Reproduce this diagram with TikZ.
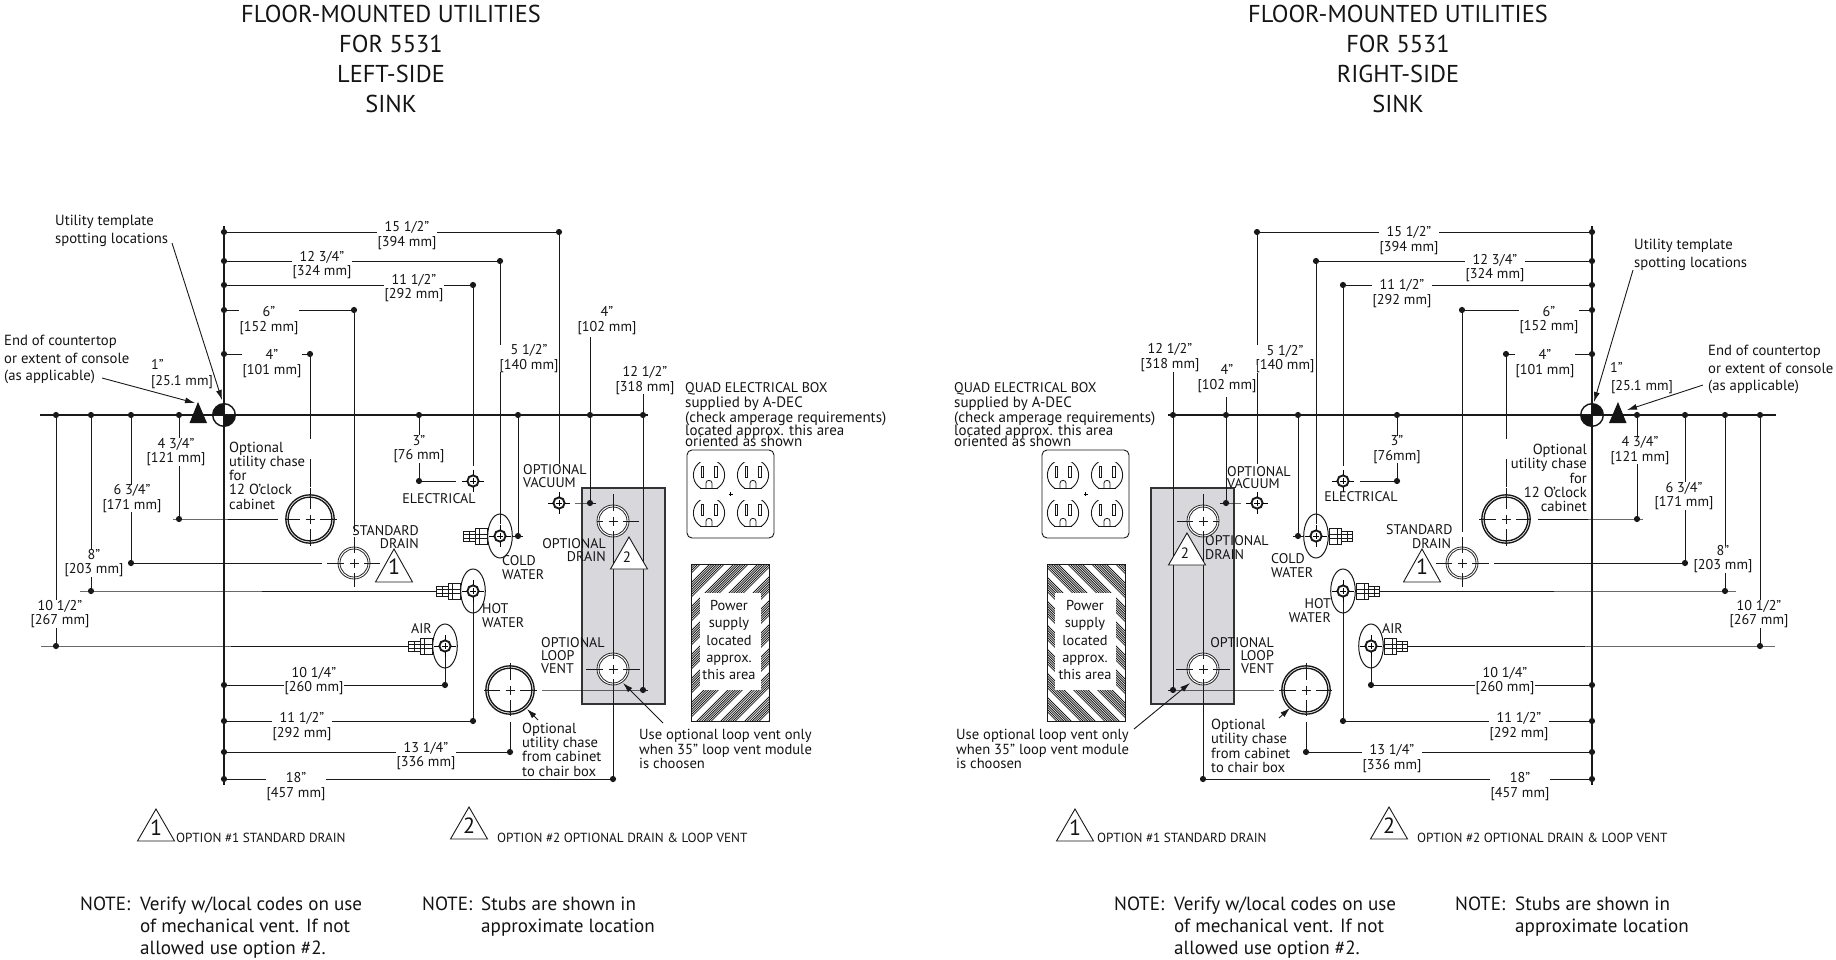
\documentclass[tikz,border=0pt]{standalone}
\usepackage{fontspec}
\setmainfont{PT Sans}
\usetikzlibrary{arrows.meta}
\newcommand\dimf{\fontsize{14.2}{14.5}\selectfont}
\newcommand\txtf{\fontsize{14.6}{14.3}\selectfont}
\newcommand\callf{\fontsize{14.7}{17.4}\selectfont}
\newcommand\capf{\fontsize{14}{13.3}\selectfont}
\newcommand\optf{\fontsize{13.2}{13}\selectfont}
\newcommand\notef{\fontsize{19.1}{22}\selectfont}
\newcommand\titf{\fontsize{24.4}{30}\selectfont}
\newcommand\quadlines{{\fontsize{14}{14.5}\selectfont QUAD ELECTRICAL BOX}\\[0.5pt]supplied by A-DEC\\[0pt](check amperage requirements)\\[-1.2pt]located approx. this area\\[-3.5pt]oriented as shown}
\tikzset{
 thinl/.style={line width=1pt,draw=black!90},
 axisl/.style={line width=1.4pt,draw=black!90},
 mainl/.style={line width=1.15pt,draw=black!90},
 dimlab/.style={align=center,fill=white,inner xsep=1pt,inner ysep=0pt,font=\dimf,text=black!92,yshift=-1pt},
 plainlab/.style={align=center,inner sep=0pt,font=\dimf,text=black!92},
 leftlab/.style={align=left,anchor=west,inner sep=0pt,font=\txtf,text=black!92},
 rightlab/.style={align=right,anchor=east,inner sep=0pt,font=\txtf,text=black!92},
 cenlab/.style={align=center,inner sep=0pt,font=\txtf,text=black!92},
 caplab/.style={align=left,anchor=west,inner sep=0pt,font=\capf,text=black!92},
 capr/.style={align=right,anchor=east,inner sep=0pt,font=\capf,text=black!92},
 calllab/.style={align=left,anchor=west,inner sep=0pt,font=\callf,text=black!92},
 optlab/.style={anchor=west,inner sep=0pt,font=\optf,text=black!92},
 notelab/.style={align=left,anchor=north west,inner sep=0pt,font=\notef,text=black!92},
 titlelab/.style={align=center,inner sep=0pt,font=\titf,text=black!92},
 trinum/.style={inner sep=0pt,font=\fontsize{22}{22}\selectfont,text=black!92},
 trinumsm/.style={inner sep=0pt,font=\fontsize{15}{15}\selectfont,text=black!92},
 ldr/.style={line width=0.9pt,draw=black!90,-{Latex[length=10pt,width=6pt]}},
}
% ---------- helpers
\newcommand\dotat[1]{\fill[black!90] (#1) circle (3.1pt);}
\newcommand\dimln[2]{\draw[thinl] (#1) -- (#2); \dotat{#1}\dotat{#2}}
\newcommand\crossm[6]{% x y hleft hright vup vdown
  \draw[thinl] (#1-#3,#2) -- (#1-10,#2) (#1-4.5,#2) -- (#1+4.5,#2) (#1+10,#2) -- (#1+#4,#2)
               (#1,#2-#5) -- (#1,#2-10) (#1,#2-4.5) -- (#1,#2+4.5) (#1,#2+10) -- (#1,#2+#6);}
\newcommand\chase[2]{\draw[line width=1.35pt,draw=black!90] (#1,#2) circle (21.9pt) circle (24.2pt);}
\newcommand\ringd[2]{\filldraw[fill=white,line width=0.8pt,draw=black!85] (#1,#2) circle (16pt); \draw[line width=0.8pt,draw=black!85] (#1,#2) circle (14pt);}
\newcommand\smring[2]{\fill[white] (#1,#2) circle (6pt);
  \draw[line width=1.9pt,draw=black!90] (#1,#2) circle (5.6pt);
  \draw[line width=0.7pt] (#1-3,#2)--(#1+3,#2) (#1,#2-3)--(#1,#2+3)
    (#1-11,#2)--(#1-6,#2) (#1+6,#2)--(#1+11,#2) (#1,#2-11)--(#1,#2-6) (#1,#2+6)--(#1,#2+11);}
\newcommand\stub[3]{% ellipse + fitting at centre x y
  \draw[thinl] (#1,#2) ellipse [x radius=12.3pt,y radius=22pt];
  \filldraw[fill=white,line width=0.9pt,draw=black!90] (#1-25,#2-8) rectangle (#1-13,#2+8);
  \filldraw[fill=white,line width=0.9pt,draw=black!90] (#1-36.5,#2-5) rectangle (#1-25,#2+5);
  \draw[line width=0.7pt,draw=black!90] (#1-36.5,#2-2)--(#1-13,#2-2) (#1-36.5,#2+2)--(#1-13,#2+2) (#1-21,#2-8)--(#1-21,#2+8) (#1-31,#2-5)--(#1-31,#2+5);
  \smring{#1}{#2}}
\newcommand\outlet[2]{\begin{scope}
  \clip (#1-17,#2-13) rectangle (#1+17,#2+13);
  \draw[line width=0.9pt,draw=black!90] (#1,#2) circle (15.6pt);\end{scope}
  \draw[line width=0.9pt,draw=black!90] (#1-8.7,#2+13) -- (#1+8.7,#2+13);
  \draw[line width=0.8pt,draw=black!90] (#1-8,#2-9) rectangle (#1-5.4,#2+2.5) (#1+5.4,#2-9) rectangle (#1+8,#2+2.5);
  \draw[line width=0.8pt,draw=black!90] (#1-3,#2+13) -- (#1-3,#2+8) .. controls (#1-3,#2+4.5) and (#1+3,#2+4.5) .. (#1+3,#2+8) -- (#1+3,#2+13);}
% ---------- background part of one half
\newcommand\halfback{%
  \filldraw[fill=black!14!white!98!blue,line width=1.1pt,draw=black!80] (582,488) rectangle (665,704);
  % quad box
  \draw[line width=0.9pt,draw=black!90,rounded corners=5pt] (687,450) rectangle (774,538);
  \outlet{709}{475}\outlet{753}{475}\outlet{709}{513}\outlet{753}{513}
  \draw[line width=0.6pt] (728.5,494)--(732.5,494) (730.5,492)--(730.5,496);
  % hatch
  \begin{scope}
   \clip (691,564) rectangle (769,721);
   \foreach \b in {0,...,11}{\foreach \i in {0,1,2,3,4,5,6}{
     \pgfmathsetmacro\dd{1250+\b*24+\i*2.4}
     \draw[line width=0.8pt,black!90] (\dd-555,555) -- (\dd-730,730);}}
  \end{scope}
  \fill[white] (700,593) rectangle (761,690);
  \draw[line width=1pt,black!90] (691,564) rectangle (769,721);
}
% ---------- connectors of one half; #1 top of 4" line, #2 top of 12 1/2" line
\newcommand\halflines[2]{%
  \coordinate (org) at (224,415);
  \coordinate (a15) at (224,232); \coordinate (e15) at (559,232);
  \coordinate (a12) at (224,261); \coordinate (e12) at (500,261);
  \coordinate (a11) at (224,285); \coordinate (e11) at (473,285);
  \coordinate (a6) at (224,310);  \coordinate (e6) at (354,310);
  \coordinate (a4) at (224,354);  \coordinate (e4) at (310,354);
  \coordinate (a10q) at (224,685); \coordinate (e10q) at (445,685);
  \coordinate (a11b) at (224,721); \coordinate (e11b) at (473,721);
  \coordinate (a13) at (224,752); \coordinate (e13) at (510,752);
  \coordinate (a18) at (224,779); \coordinate (e18) at (613,779);
  \coordinate (m43) at (179,415); \coordinate (n43) at (179,519);
  \coordinate (m63) at (131,415); \coordinate (n63) at (131,563);
  \coordinate (m8) at (91,415);   \coordinate (n8) at (91,591);
  \coordinate (m10) at (56,415);  \coordinate (n10) at (56,646);
  \coordinate (m3) at (419,415);  \coordinate (n3) at (419,481);
  \coordinate (m5) at (518,415);  \coordinate (n5) at (518,536);
  \coordinate (m4r) at (590,415); \coordinate (n4r) at (590,503);
  \coordinate (m12) at (643,415); \coordinate (n12) at (643,690);
  % main lines
  \draw[mainl] (40,415) -- (648,415);
  \draw[axisl] (224,226) -- (224,785);
  \dimln{a15}{e15}\dimln{a12}{e12}\dimln{a11}{e11}\dimln{a6}{e6}\dimln{a4}{e4}
  \dimln{a10q}{e10q}\dimln{a11b}{e11b}\dimln{a13}{e13}\dimln{a18}{e18}
  \dimln{m43}{n43}\dimln{m63}{n63}\dimln{m8}{n8}\dimln{m10}{n10}\dimln{m3}{n3}
  \dimln{m5}{n5}\dimln{m4r}{n4r}\dimln{m12}{n12}
  \draw[thinl] (e15) -- (559,464);
  \draw[thinl] (e12) -- (500,524);
  \draw[thinl] (e11) -- (473,466);
  \draw[thinl] (e6) -- (354,532);
  \draw[thinl] (e4) -- (310,439) (310,459) -- (310,487);
  \draw[thinl] (473,597) -- (e11b);
  \draw[thinl] (445,652) -- (e10q);
  \draw[thinl] (510,722) -- (e13);
  \draw[thinl] (613,494) -- (613,779);
  % horizontal runs
  \draw[thinl] (173,519) -- (n43) -- (278,519);
  \draw[thinl] (n63) -- (322,563);
  \draw[thinl] (80,591) -- (n8) -- (437,591);
  \draw[thinl] (41,646) -- (n10) -- (410,646);
  \draw[thinl] (n3) -- (456,481);
  \draw[thinl] (575,503) -- (n4r) -- (596,503);
  \draw[thinl] (512,536) -- (523,536);
  \draw[thinl] (542,690) -- (n12) -- (648,690);
  \draw[thinl] (590,#1) -- (m4r);
  \draw[thinl] (643,#2) -- (m12);
}
% ---------- symbols of one half
\newcommand\halfsyms{%
  \begin{scope}
    \clip (224,415) circle (11pt);
    \fill[black!92] (212,403) rectangle (224,415) (224,415) rectangle (236,427);
  \end{scope}
  \draw[line width=1.4pt,black!92] (224,415) circle (11.3pt);
  \fill[black!92] (198,402) -- (189.5,423) -- (207,423) -- cycle;
  \crossm{310}{519}{25}{27}{31}{27}\chase{310}{519}
  \crossm{510}{690}{26}{27}{27}{26}\chase{510}{690}
  \ringd{354}{563}\crossm{354}{563}{27}{26}{26}{24}
  \ringd{613}{521}\crossm{613}{521}{16}{26}{27}{16}
  \ringd{613}{669}\crossm{613}{669}{27}{27}{27}{16}
  \smring{473}{481}\smring{559}{503}
  \stub{500}{536}{}\stub{473}{591}{}\stub{445}{646}{}
}
\newcommand\tri[4]{\draw[line width=0.9pt,black!90,#4] (#1,#2) -- (#1-18.5,#3) -- (#1+18.5,#3) -- cycle;}
\begin{document}
\begin{tikzpicture}[x=1pt,y=-1pt]
\useasboundingbox (0,0) rectangle (1836,960);
\fill[white] (0,0) rectangle (1836,960);
% backgrounds & lines
\halfback
\halflines{337}{394}
\begin{scope}[shift={(1816,0)},xscale=-1]
\halfback
\halflines{397}{372}
\end{scope}
% ===== LEFT text
\node[titlelab] (ltitle) at (391,59) {FLOOR-MOUNTED UTILITIES\\FOR 5531\\LEFT-SIDE\\SINK};
\node[dimlab] (l15) at (407,234.5) {15 1/2"\\{[394 mm]}};
\node[dimlab] (l12) at (322,264) {12 3/4"\\{[324 mm]}};
\node[dimlab] (l11) at (414,287) {11 1/2"\\{[292 mm]}};
\node[dimlab] (l6) at (269,319.5) {6"\\{[152 mm]}};
\node[dimlab] (l4) at (272,362.5) {4"\\{[101 mm]}};
\node[dimlab] (l43) at (176,451) {4 3/4"\\{[121 mm]}};
\node[dimlab] (l63) at (132,497.5) {6 3/4"\\{[171 mm]}};
\node[dimlab] (l8) at (94,562) {8"\\{[203 mm]}};
\node[dimlab] (l10) at (60,613) {10 1/2"\\{[267 mm]}};
\node[dimlab] (l3) at (419,448) {3"\\{[76 mm]}};
\node[dimlab] (l5) at (529,357.5) {5 1/2"\\{[140 mm]}};
\node[dimlab] (l4r) at (607,319.5) {4"\\{[102 mm]}};
\node[dimlab] (l12r) at (645,379.5) {12 1/2"\\{[318 mm]}};
\node[dimlab] (l10q) at (314,680) {10 1/4"\\{[260 mm]}};
\node[dimlab] (l11b) at (302,725.5) {11 1/2"\\{[292 mm]}};
\node[dimlab] (l13) at (426,755) {13 1/4"\\{[336 mm]}};
\node[dimlab] (l18) at (296,785.5) {18"\\{[457 mm]}};
\node[plainlab,anchor=west] (l1a) at (151,364) {1"};
\node[plainlab] (l1b) at (182,382) {[25.1 mm]};
\node[calllab] (lutil) at (55,231) {Utility template\\spotting locations};
\node[calllab] (lend) at (4,359.5) {End of countertop\\or extent of console\\(as applicable)};
\node[leftlab] (lchase) at (229,475.5) {Optional\\utility chase\\for\\12 O'clock\\cabinet};
\node[leftlab,font=\fontsize{15}{14.5}\selectfont] (lquad) at (685,415) {\quadlines};
\node[caplab] (lvac) at (523,476) {OPTIONAL\\VACUUM};
\node[cenlab,font=\capf] (lelec) at (439,499) {ELECTRICAL};
\node[caplab] (lcold) at (502,567.5) {COLD\\WATER};
\node[caplab] (lhot) at (482,615.5) {HOT\\WATER};
\node[capr] (lstd) at (419,537) {STANDARD\\DRAIN\hspace{5pt}};
\node[capr] (ldrain) at (606,550) {OPTIONAL\\DRAIN};
\node[caplab] (lvent) at (541,655.5) {OPTIONAL\\LOOP\\VENT};
\node[caplab] (lair) at (411,629) {AIR};
\node[leftlab] (lchb) at (522,749.5) {Optional\\utility chase\\from cabinet\\to chair box};
\node[leftlab] (luse) at (639,749) {Use optional loop vent only\\when 35" loop vent module\\is choosen};
\node[cenlab,font=\fontsize{14.4}{17.2}\selectfont] (lpow) at (729,640) {Power\\supply\\located\\approx.\\this area};
\node[optlab] (lopt1) at (176,838) {OPTION \#1 STANDARD DRAIN};
\node[optlab] (lopt2) at (497,838) {OPTION \#2 OPTIONAL DRAIN \& LOOP VENT};
\node[notelab] (ln1) at (80,897) {NOTE:};
\node[notelab] (ln1t) at (140,897) {Verify w/local codes on use\\of mechanical vent. If not\\allowed use option \#2.};
\node[notelab] (ln2) at (422,897) {NOTE:};
\node[notelab] (ln2t) at (481,897) {Stubs are shown in\\approximate location};
% ===== RIGHT text
\node[titlelab] (rtitle) at (1398,59) {FLOOR-MOUNTED UTILITIES\\FOR 5531\\RIGHT-SIDE\\SINK};
\node[dimlab] (r15) at (1409,239.5) {15 1/2"\\{[394 mm]}};
\node[dimlab] (r12) at (1495,267) {12 3/4"\\{[324 mm]}};
\node[dimlab] (r11) at (1402,292.5) {11 1/2"\\{[292 mm]}};
\node[dimlab] (r6) at (1549,319) {6"\\{[152 mm]}};
\node[dimlab] (r4) at (1545,362.5) {4"\\{[101 mm]}};
\node[dimlab] (r43) at (1640,449.5) {4 3/4"\\{[121 mm]}};
\node[dimlab] (r63) at (1684,495) {6 3/4"\\{[171 mm]}};
\node[dimlab] (r8) at (1723,558) {8"\\{[203 mm]}};
\node[dimlab] (r10) at (1759,613) {10 1/2"\\{[267 mm]}};
\node[dimlab] (r3) at (1397,448.5) {3"\\{[76mm]}};
\node[dimlab] (r5) at (1285,358) {5 1/2"\\{[140 mm]}};
\node[dimlab] (r4r) at (1227,377.5) {4"\\{[102 mm]}};
\node[dimlab] (r12r) at (1170,356.5) {12 1/2"\\{[318 mm]}};
\node[dimlab] (r10q) at (1505,680) {10 1/4"\\{[260 mm]}};
\node[dimlab] (r11b) at (1519,725.5) {11 1/2"\\{[292 mm]}};
\node[dimlab] (r13) at (1392,757.5) {13 1/4"\\{[336 mm]}};
\node[dimlab] (r18) at (1520,785.5) {18"\\{[457 mm]}};
\node[plainlab,anchor=west] (r1a) at (1610,367) {1"};
\node[plainlab] (r1b) at (1642,387) {[25.1 mm]};
\node[calllab] (rutil) at (1634,255) {Utility template\\spotting locations};
\node[calllab] (rend) at (1708,369.5) {End of countertop\\or extent of console\\(as applicable)};
\node[rightlab] (rchase) at (1587,478) {Optional\\utility chase\\for\\12 O'clock\\cabinet};
\node[leftlab,font=\fontsize{15}{14.5}\selectfont] (rquad) at (954,415) {\quadlines};
\node[caplab,font=\fontsize{14}{11.5}\selectfont] (rvac) at (1227,477.5) {OPTIONAL\\VACUUM};
\node[cenlab,font=\capf] (relec) at (1361,497) {ELECTRICAL};
\node[caplab] (rcold) at (1271,565.5) {COLD\\WATER};
\node[capr] (rhot) at (1331,610.5) {HOT\\WATER};
\node[caplab] (rstd) at (1386,536.5) {STANDARD\\\hspace{26pt}DRAIN};
\node[caplab] (rdrain) at (1205,547.5) {OPTIONAL\\DRAIN};
\node[capr] (rvent) at (1274,655.5) {OPTIONAL\\LOOP\\VENT};
\node[caplab] (rair) at (1382,629) {AIR};
\node[leftlab] (rchb) at (1211,746) {Optional\\utility chase\\from cabinet\\to chair box};
\node[leftlab] (ruse) at (956,749) {Use optional loop vent only\\when 35" loop vent module\\is choosen};
\node[cenlab,font=\fontsize{14.4}{17.2}\selectfont] (rpow) at (1085,640) {Power\\supply\\located\\approx.\\this area};
\node[optlab] (ropt1) at (1097,838) {OPTION \#1 STANDARD DRAIN};
\node[optlab] (ropt2) at (1417,838) {OPTION \#2 OPTIONAL DRAIN \& LOOP VENT};
\node[notelab] (rn1) at (1114,897) {NOTE:};
\node[notelab] (rn1t) at (1174,897) {Verify w/local codes on use\\of mechanical vent. If not\\allowed use option \#2.};
\node[notelab] (rn2) at (1455,897) {NOTE:};
\node[notelab] (rn2t) at (1515,897) {Stubs are shown in\\approximate location};
% symbols over labels
\halfsyms
\begin{scope}[shift={(1816,0)},xscale=-1]
\halfsyms
\end{scope}
% triangles
\tri{394}{549}{582}{}
\node[trinum] (lt1) at (394,567) {1};
\tri{629}{537}{569}{fill=white}
\node[trinumsm] (lt2) at (627,557) {2};
\tri{1422}{549}{582}{}
\node[trinum] (rt1) at (1422,567) {1};
\tri{1187}{533}{565}{fill=white}
\node[trinumsm] (rt2) at (1185,553) {2};
\tri{156}{809}{841}{}
\node[trinum] (lg1) at (156,828) {1};
\tri{469}{807}{839}{}
\node[trinum] (lg2) at (469,826) {2};
\tri{1075}{809}{841}{}
\node[trinum] (rg1) at (1075,828) {1};
\tri{1389}{807}{839}{}
\node[trinum] (rg2) at (1389,826) {2};
% leaders
\coordinate (lu0) at (172,243); \coordinate (lu1) at (222,400);
\coordinate (le0) at (102,378); \coordinate (le1) at (195,403);
\coordinate (lc0) at (538,720); \coordinate (lc1) at (527,709);
\coordinate (lv0) at (663,723); \coordinate (lv1) at (623,683);
\draw[ldr] (lu0) -- (lu1);
\draw[ldr] (le0) -- (le1);
\draw[ldr] (lc0) -- (lc1);
\draw[ldr] (lv0) -- (lv1);
\coordinate (ru0) at (1633,270); \coordinate (ru1) at (1594,402);
\coordinate (re0) at (1703,385); \coordinate (re1) at (1627,410);
\coordinate (rc0) at (1279,718); \coordinate (rc1) at (1290,708);
\coordinate (rv0) at (1134,729); \coordinate (rv1) at (1190,683);
\draw[ldr] (ru0) -- (ru1);
\draw[ldr] (re0) -- (re1);
\draw[ldr] (rc0) -- (rc1);
\draw[ldr] (rv0) -- (rv1);
\end{tikzpicture}
\end{document}
